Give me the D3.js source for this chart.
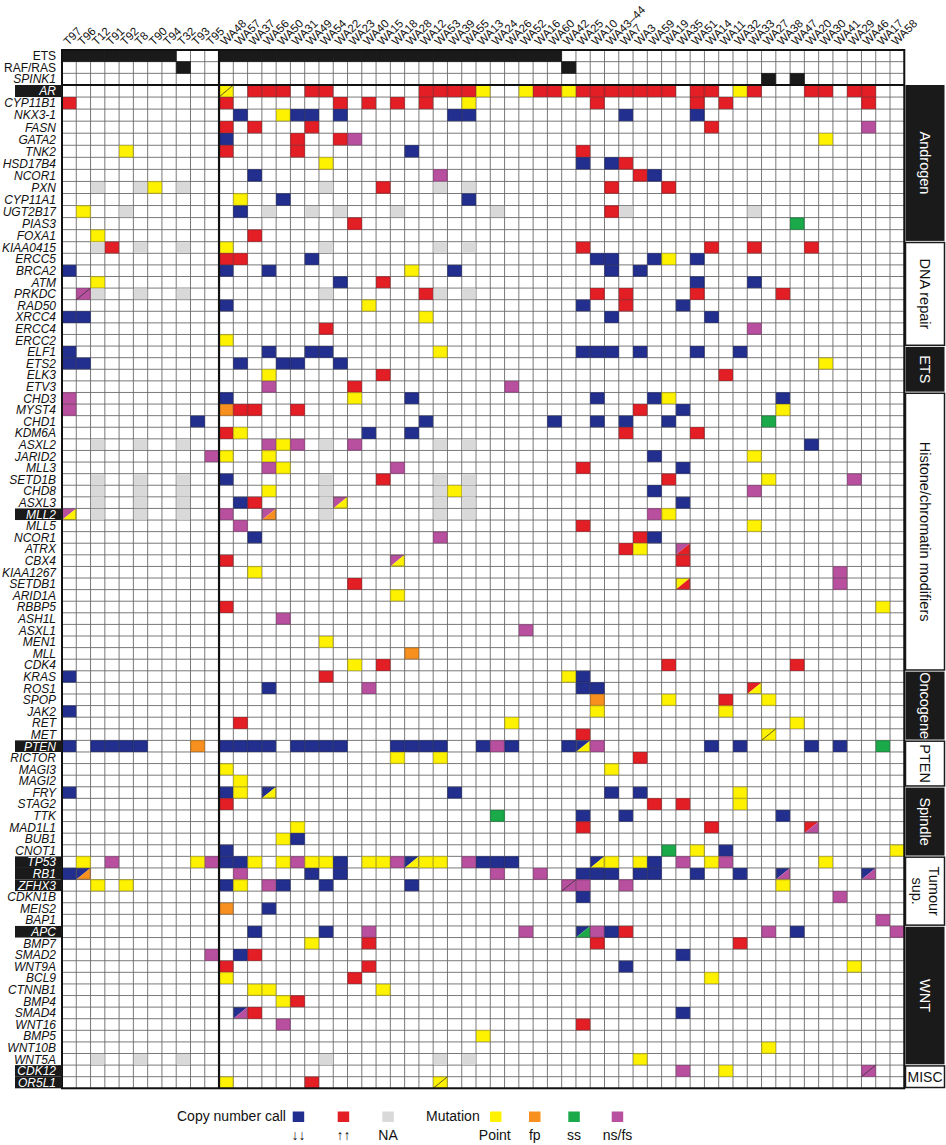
<!DOCTYPE html>
<html><head><meta charset="utf-8">
<script src="https://cdn.jsdelivr.net/npm/d3@7/dist/d3.min.js"></script>
<style>
body{margin:0;background:#fff}
text{font-family:"Liberation Sans",Arial,Helvetica,sans-serif}
</style>
</head><body>
<svg id="chart" width="946" height="1145"></svg>
<script>
// ---------- DATA ----------
const samples = ["T97","T96","T12","T91","T92","T8","T90","T94","T32","T93","T95",
  "WA48","WA57","WA37","WA56","WA50","WA31","WA49","WA54","WA22","WA23","WA40","WA15","WA18","WA28",
  "WA12","WA53","WA39","WA55","WA13","WA24","WA26","WA52","WA16","WA60","WA42","WA25","WA10","WA43–44",
  "WA7","WA3","WA59","WA19","WA35","WA51","WA14","WA11","WA32","WA33","WA27","WA38","WA47","WA20",
  "WA30","WA41","WA29","WA46","WA17","WA58"];

// top annotation rows (black = present), values are sample indices
const topRows = ["ETS","RAF/RAS","SPINK1"];
const etsStatus = [0,1,2,3,4,5,6,7,11,12,13,14,15,16,17,18,19,20,21,22,23,24,25,26,27,28,29,30,31,32,33,34];
const rafStatus = [8,35];
const spink1Status = [49,51];

// call codes: B = copy loss, R = copy gain, N = NA, Y = point, O = fp, G = ss, P = ns/fs
// two letters = split cell, "/" = diagonal mark
const androgenGenes = ["AR","CYP11B1","NKX3-1","FASN","GATA2","TNK2","HSD17B4","NCOR1","PXN","CYP11A1","UGT2B17","PIAS3","FOXA1"];
const androgenCalls = [
  "11Y/ 13R 14R 15R 17R 18R 25R 26R 27R 28R 29Y 32Y 33R 34R 35Y 36R 37R 38R 39R 40R 41R 42R 44R 45R 47Y 48R 52R 53R 55R 56R",
  "0R 11R 19R 21R 23R 25R 28Y 37R 44R 46R 56R",
  "12B 15Y 16B 17B 19B 27B 28B 39B 44B",
  "11R 13R 17R 45R 56P",
  "11B 16R 19R 20P 53Y",
  "4Y 11R 16R 24B 36R",
  "18Y 36B 38B 39R",
  "13B 26P 40R 41B",
  "2N 5N 6Y 8N 18N 22R 26N 28N 38R 42R",
  "12Y 15B 28B",
  "1Y 4N 12B 14N 17N 19N 23N 30N 38R 39N 48N",
  "20R 51G",
  "2Y 13R"];
const dnaGenes = ["KIAA0415","ERCC5","BRCA2","ATM","PRKDC","RAD50","XRCC4","ERCC4","ERCC2"];
const dnaCalls = [
  "2N 3R 5N 8N 11Y 18N 26N 28N 36R 45R 48R 52R",
  "11R 12R 17B 37B 38B 41B 42Y 44B",
  "0B 11B 14B 24Y 27B 38B 40B",
  "2Y 19B 22R 44B 48B",
  "1P/ 2N 5N 8N 18N 25R 26N 28N 37R 39R 44R 50R",
  "11B 21Y 36B 39R 43B",
  "0B 1B 25Y 38B 45B",
  "18R 48P",
  "11Y"];
const etsGenes = ["ELF1","ETS2","ELK3","ETV3"];
const etsCalls = [
  "0B 14B 17B 18B 26Y 36B 37B 38B 40B 44B 47B",
  "0B 1B 12B 15B 16B 19B 53Y",
  "14Y 22R 46R",
  "14P 20R 31P"];
const histoneGenes = ["CHD3","MYST4","CHD1","KDM6A","ASXL2","JARID2","MLL3","SETD1B","CHD8","ASXL3","MLL2","MLL5",
  "NCOR1","ATRX","CBX4","KIAA1267","SETDB1","ARID1A","RBBP5","ASH1L","ASXL1","MEN1","MLL","CDK4"];
const histoneCalls = [
  "0P 11B 20Y 24B 37B 41B 42Y 50B",
  "0P 11O 12R 13R 16R 40R 43B 50Y",
  "9B 25B 34B 37B 39B 42B 49G",
  "11R 12Y 21B 24B 39R 44R",
  "2N 5N 8N 14P 15Y 16P 18N 20P 26N 28N 52B",
  "10P 11Y 14Y 41B 48Y",
  "14P 15Y 23P 36R 43B",
  "2N 5N 8N 11B 18N 22R 26N 28N 42R 49Y 55P",
  "2N 5N 8N 14Y 18N 26N 27Y 28N 41B 48P",
  "2N 5N 8N 12B 13R 18N 19PY 26N 28N 43B",
  "0PY 2N 5N 8N 11P 14PO 18N 26N 28N 41P 42Y",
  "12P 36R 48Y",
  "13B 26P 40R 41B",
  "39R 40Y 43PR",
  "11R 23PY 43R",
  "13Y 54P",
  "20R 43YR 54P",
  "23Y",
  "11R 57Y",
  "15P",
  "32P",
  "18Y",
  "24O",
  "20Y 22R 42R 51R"];
const oncoGenes = ["KRAS","ROS1","SPOP","JAK2","RET","MET"];
const oncoCalls = [
  "0B 18R 35Y 36B",
  "14B 21P 36B 37B 48RY",
  "37O 42Y 46R 49Y",
  "0B 37Y 46Y",
  "12R 31Y 51Y",
  "36R 49Y/"];
const ptenGenes = ["PTEN","RICTOR","MAGI3","MAGI2"];
const ptenCalls = [
  "0B 2B 3B 4B 5B 9O 11B 12B 13B 14B 16B 17B 18B 19B 23B 24B 25B 26B 29B 30P 31B 35B 36BY 37P 45B 47B 52B 54B 57G",
  "23Y 26Y 40R",
  "11Y 38Y",
  "12Y"];
const spindleGenes = ["FRY","STAG2","TTK","MAD1L1","BUB1","CNOT1"];
const spindleCalls = [
  "0B 11B 12Y 14BY 27B 38B 40B 47Y",
  "11R 41R 43R 47Y",
  "30G 36B 39B 50B",
  "16Y 36R 45R 52RP",
  "15Y 16B",
  "11B 42G 44Y 46B 58Y"];
const tumourGenes = ["TP53","RB1","ZFHX3","CDKN1B","MEIS2","BAP1"];
const tumourCalls = [
  "1Y 3P 9Y 10P 11B 12B 13Y 15Y 16P 17Y 18Y 19B 21Y 22Y 23P 24BY 25Y 26Y 28P 29B 30B 31B 37BY 38Y 40Y 41B 43P 45Y 46P 53Y",
  "0B 1BO 12P 17B 19B 30P 33P 36B 37B 38B 40B 41B 44B 47B 50BP 56BP",
  "2Y 4Y 11B 12Y 14P 15B 18B 24B 35P/ 36P 39P 50Y",
  "36B 54P",
  "11O 14B",
  "57P"];
const wntGenes = ["APC","BMP7","SMAD2","WNT9A","BCL9","CTNNB1","BMP4","SMAD4","WNT16","BMP5","WNT10B","WNT5A"];
const wntCalls = [
  "13B 18B 21P 32P 36BG 37P 38B 39R 49P 51B 58P",
  "17Y 21R 37R 47R",
  "10P 12B 13R 43B",
  "11R 21R 39B 55Y",
  "11Y 20R 45Y",
  "13Y 14Y 22Y",
  "15Y 16R",
  "12BP 13R 43B",
  "15P 36R",
  "29Y",
  "49Y",
  "2N 5N 8N 18N 26N 28N 40Y"];
const miscGenes = ["CDK12","OR5L1"];
const miscCalls = ["43P 46Y 56P/", "11Y 17R 26Y/"];

const groupNames = ["Androgen","DNA repair","ETS","Histone/chromatin modifiers","Oncogene","PTEN","Spindle","Tumour sup.","WNT","MISC"];
const highlighted = ["AR","MLL2","PTEN","TP53","RB1","ZFHX3","APC","CDK12","OR5L1"];

const legendCN = [["B","↓↓"],["R","↑↑"],["N","NA"]];
const legendMut = [["Y","Point"],["O","fp"],["G","ss"],["P","ns/fs"]];

// ---------- BUILD ----------
const groupGeneLists = [androgenGenes,dnaGenes,etsGenes,histoneGenes,oncoGenes,ptenGenes,spindleGenes,tumourGenes,wntGenes,miscGenes];
const groupCallLists = [androgenCalls,dnaCalls,etsCalls,histoneCalls,oncoCalls,ptenCalls,spindleCalls,tumourCalls,wntCalls,miscCalls];

const rows = [];
groupGeneLists.forEach((genes,gi)=>{
  genes.forEach((g,k)=>rows.push({label:g, group:gi, calls:groupCallLists[gi][k]}));
});
const nTop = topRows.length;
const nRows = nTop + rows.length;

const colors = {B:"#232f8f",R:"#e31e25",N:"#d9d9d9",Y:"#fff200",O:"#f7901e",G:"#1aaa4a",P:"#b9509f"};

function parseCalls(s){
  return s.trim().split(/\s+/).filter(t=>t).map(t=>{
    const m = t.match(/^(\d+)([A-Z]+)(\/?)$/);
    return {col:+m[1], codes:m[2].split(""), slash:m[3]==="/"};
  });
}

const svg = d3.select("#chart");
const x = d3.scaleBand().domain(d3.range(samples.length)).range([62, 904.3]);
const y = d3.scaleLinear().domain([0, nTop, nTop+13, nRows]).range([50, 85, 241.7, 1088.3]);
const bw = x.bandwidth();
const gridL = x.range()[0], gridR = x.range()[1], gridT = y(0), gridB = y(nRows);

svg.append("rect").attr("width",946).attr("height",1145).attr("fill","#fff");

// grid lines
const grid = svg.append("g").attr("stroke","#6a6a6a").attr("stroke-width",0.9);
d3.range(samples.length+1).forEach(i=>{
  const xx = i<samples.length ? x(i) : gridR;
  grid.append("line").attr("x1",xx).attr("x2",xx).attr("y1",gridT).attr("y2",gridB);
});
d3.range(nRows+1).forEach(r=>{
  grid.append("line").attr("x1",gridL).attr("x2",gridR).attr("y1",y(r)).attr("y2",y(r));
});

// top rows (black cells)
const topData = [etsStatus, rafStatus, spink1Status];
topData.forEach((cols,r)=>{
  svg.append("g").selectAll("rect").data(cols).join("rect")
    .attr("x",d=>x(d)).attr("y",y(r)).attr("width",bw).attr("height",y(r+1)-y(r))
    .attr("fill","#1a1a1a").attr("stroke","#1a1a1a").attr("stroke-width",0.6);
});

// cells
const cellG = svg.append("g");
rows.forEach((row,ri)=>{
  const r = ri + nTop;
  const y0 = y(r), y1 = y(r+1);
  parseCalls(row.calls).forEach(c=>{
    const x0 = x(c.col), x1 = x0 + bw;
    if(c.codes.length===1){
      const col = colors[c.codes[0]];
      cellG.append("rect").attr("x",x0+0.4).attr("y",y0+0.4).attr("width",bw-0.8).attr("height",y1-y0-0.8)
        .attr("fill",col)
        .attr("stroke", c.codes[0]==="N" ? "none" : d3.color(col).darker(0.7))
        .attr("stroke-width",0.8);
    } else {
      const a = colors[c.codes[0]], b = colors[c.codes[1]];
      cellG.append("path").attr("d",`M${x0},${y0}L${x1},${y0}L${x0},${y1}Z`).attr("fill",a);
      cellG.append("path").attr("d",`M${x1},${y0}L${x1},${y1}L${x0},${y1}Z`).attr("fill",b);
      cellG.append("rect").attr("x",x0+0.4).attr("y",y0+0.4).attr("width",bw-0.8).attr("height",y1-y0-0.8)
        .attr("fill","none").attr("stroke","#555").attr("stroke-width",0.6);
    }
    if(c.slash){
      cellG.append("line").attr("x1",x0).attr("y1",y1).attr("x2",x1).attr("y2",y0)
        .attr("stroke","#333").attr("stroke-width",0.8);
    }
  });
});

// thick lines
svg.append("rect").attr("x",gridL).attr("y",gridT).attr("width",gridR-gridL).attr("height",gridB-gridT)
  .attr("fill","none").attr("stroke","#111").attr("stroke-width",2);
svg.append("line").attr("x1",x(11)).attr("x2",x(11)).attr("y1",gridT).attr("y2",gridB)
  .attr("stroke","#111").attr("stroke-width",2.2);
svg.append("line").attr("x1",gridL).attr("x2",gridR).attr("y1",y(nTop)).attr("y2",y(nTop))
  .attr("stroke","#111").attr("stroke-width",2.2);

// column labels
svg.append("g").selectAll("text").data(samples).join("text")
  .attr("transform",(d,i)=>`translate(${x(i)+bw/2-1},${gridT-4}) rotate(-45)`)
  .attr("font-size",11.5).attr("fill","#111").text(d=>d);

// row labels (top)
topRows.forEach((t,r)=>{
  svg.append("text").attr("x",56).attr("y",(y(r)+y(r+1))/2).attr("dy","0.36em")
    .attr("text-anchor","end").attr("font-size",12).attr("fill","#111")
    .attr("font-style", t==="SPINK1" ? "italic" : "normal").text(t);
});
// gene labels
rows.forEach((row,ri)=>{
  const r = ri + nTop;
  const hl = highlighted.includes(row.label);
  if(hl){
    svg.append("rect").attr("x",15).attr("y",y(r)).attr("width",gridL-15).attr("height",y(r+1)-y(r))
      .attr("fill","#1a1a1a");
  }
  svg.append("text").attr("x",56).attr("y",(y(r)+y(r+1))/2).attr("dy","0.36em")
    .attr("text-anchor","end").attr("font-size",12).attr("font-style","italic")
    .attr("fill",hl?"#fff":"#111").text(row.label);
});

// right group panel
let start = nTop;
groupGeneLists.forEach((genes,gi)=>{
  const end = start + genes.length;
  const dark = gi % 2 === 0;
  const top = y(start) + (gi===0?0:0.8), bot = y(end) - 0.8;
  const px0 = 905.5, px1 = 944.5;
  svg.append("rect").attr("x",px0).attr("y",top).attr("width",px1-px0).attr("height",bot-top)
    .attr("fill",dark?"#1a1a1a":"#fff").attr("stroke","#1a1a1a").attr("stroke-width",dark?0:1.5);
  const cx = (px0+px1)/2, cy = (top+bot)/2;
  const name = groupNames[gi];
  const tc = dark?"#fff":"#111";
  if(name==="MISC"){
    svg.append("text").attr("x",cx).attr("y",cy).attr("dy","0.36em").attr("text-anchor","middle")
      .attr("font-size",14).attr("fill",tc).text(name);
  } else if(name==="Tumour sup."){
    const t = svg.append("text").attr("transform",`translate(${cx},${cy}) rotate(90)`)
      .attr("text-anchor","middle").attr("font-size",14.5).attr("fill",tc);
    t.append("tspan").attr("x",0).attr("y",-9).attr("dy","0.36em").text("Tumour");
    t.append("tspan").attr("x",0).attr("y",8).attr("dy","0.36em").text("sup.");
  } else {
    svg.append("text").attr("transform",`translate(${cx},${cy}) rotate(90)`).attr("dy","0.36em")
      .attr("text-anchor","middle").attr("font-size",14.5).attr("fill",tc).text(name);
  }
  start = end;
});

// legend
const lg = svg.append("g").attr("font-size",14).attr("fill","#111");
lg.append("text").attr("x",177).attr("y",1121).text("Copy number call");
lg.append("text").attr("x",426).attr("y",1121).text("Mutation");
const legendX = {B:292.7,R:337.7,N:382.3,Y:490,O:529,G:568.3,P:611.7};
legendCN.concat(legendMut).forEach(([k,lab])=>{
  lg.append("rect").attr("x",legendX[k]).attr("y",1111.5).attr("width",11.5).attr("height",10.5)
    .attr("fill",colors[k]);
  lg.append("text").attr("x",legendX[k]+5.8+(k==="Y"?-1:0)).attr("y",1139.5).attr("text-anchor","middle")
    .text(lab);
});
</script>
</body></html>
